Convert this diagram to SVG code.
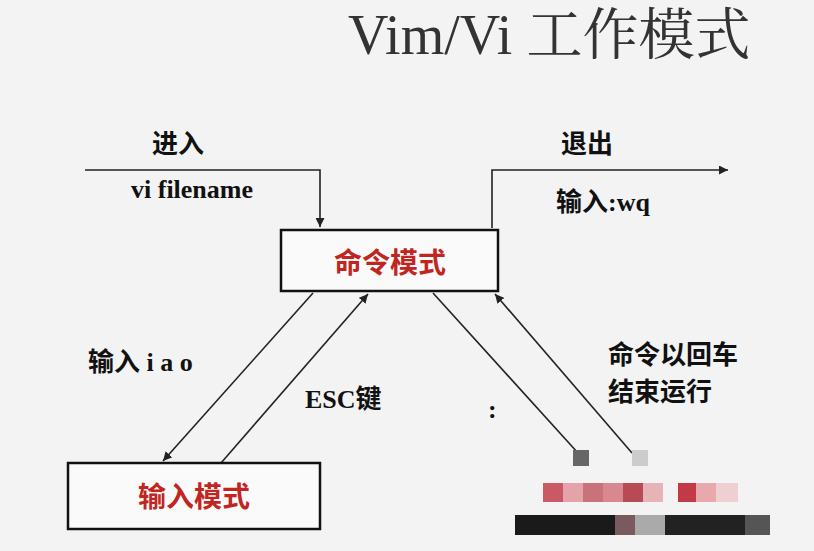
<svg xmlns="http://www.w3.org/2000/svg" width="814" height="551" viewBox="0 0 814 551">
<defs>
<marker id="ah" viewBox="0 0 10 10" refX="10" refY="5" markerWidth="9" markerHeight="9" orient="auto" markerUnits="userSpaceOnUse"><path d="M0,0 L10,5 L0,10 z" fill="#222"/></marker>
</defs>
<style>
.ln{stroke:#222;stroke-width:1.6;fill:none}
.box{fill:#fafafa;stroke:#111;stroke-width:2.5}
.lbl{font-family:"Liberation Serif","Noto Sans CJK SC",serif;font-size:26px;fill:#111;font-weight:bold}
.node{font-family:"Liberation Serif","Noto Sans CJK SC",serif;font-size:28px;fill:#c0261f;font-weight:bold}
</style>
<rect width="814" height="551" fill="#f3f3f3"/>
<text x="348" y="54" font-family="Liberation Serif,Noto Serif CJK SC,Noto Sans CJK SC,serif" font-size="56" fill="#333">Vim/Vi 工作模式</text>
<g id="connectors">
<polyline class="ln" points="85,170 320,170 320,227" marker-end="url(#ah)"/>
<polyline class="ln" points="492,228 492,170 728,170" marker-end="url(#ah)"/>
<line class="ln" x1="313" y1="293" x2="163" y2="461" marker-end="url(#ah)"/>
<line class="ln" x1="221" y1="463" x2="368" y2="294" marker-end="url(#ah)"/>
<line class="ln" x1="433" y1="293" x2="578" y2="453"/>
<line class="ln" x1="632" y1="453" x2="495" y2="294" marker-end="url(#ah)"/>
</g>
<g id="labels">
<text class="lbl" x="152" y="153" font-weight="normal">进入</text>
<text class="lbl" x="131" y="198">vi filename</text>
<text class="lbl" x="561" y="153" font-weight="normal">退出</text>
<text class="lbl" x="556" y="211">输入:wq</text>
<text class="lbl" x="88" y="371">输入 i a o</text>
<text class="lbl" x="305" y="408">ESC键</text>
<text class="lbl" x="488" y="418">:</text>
<text class="lbl" x="608" y="364" font-weight="normal">命令以回车</text>
<text class="lbl" x="608" y="401" font-weight="normal">结束运行</text>
</g>
<g id="cmd">
<rect class="box" x="281" y="230" width="217" height="61"/>
<text class="node" x="390" y="273" text-anchor="middle">命令模式</text>
</g>
<g id="input">
<rect class="box" x="68" y="463" width="252" height="66"/>
<text class="node" x="194" y="507" text-anchor="middle">输入模式</text>
</g>
<g id="mosaic">
<rect x="573" y="450" width="16" height="16" fill="#666"/>
<rect x="632" y="450" width="16" height="16" fill="#ccc"/>
<rect x="543" y="483" width="20" height="19" fill="#c95a64"/>
<rect x="563" y="483" width="20" height="19" fill="#e3a3a8"/>
<rect x="583" y="483" width="20" height="19" fill="#c9727a"/>
<rect x="603" y="483" width="20" height="19" fill="#d8898f"/>
<rect x="623" y="483" width="20" height="19" fill="#b84a55"/>
<rect x="643" y="483" width="20" height="19" fill="#e6b4b6"/>
<rect x="678" y="483" width="18" height="19" fill="#c23a46"/>
<rect x="696" y="483" width="20" height="19" fill="#e7a9ad"/>
<rect x="716" y="483" width="22" height="19" fill="#efd0d2"/>
<rect x="515" y="515" width="100" height="20" fill="#1a1a1a"/>
<rect x="615" y="515" width="20" height="20" fill="#7a5a5e"/>
<rect x="635" y="515" width="30" height="20" fill="#aaa"/>
<rect x="665" y="515" width="80" height="20" fill="#222"/>
<rect x="745" y="515" width="25" height="20" fill="#555"/>
</g>
</svg>
